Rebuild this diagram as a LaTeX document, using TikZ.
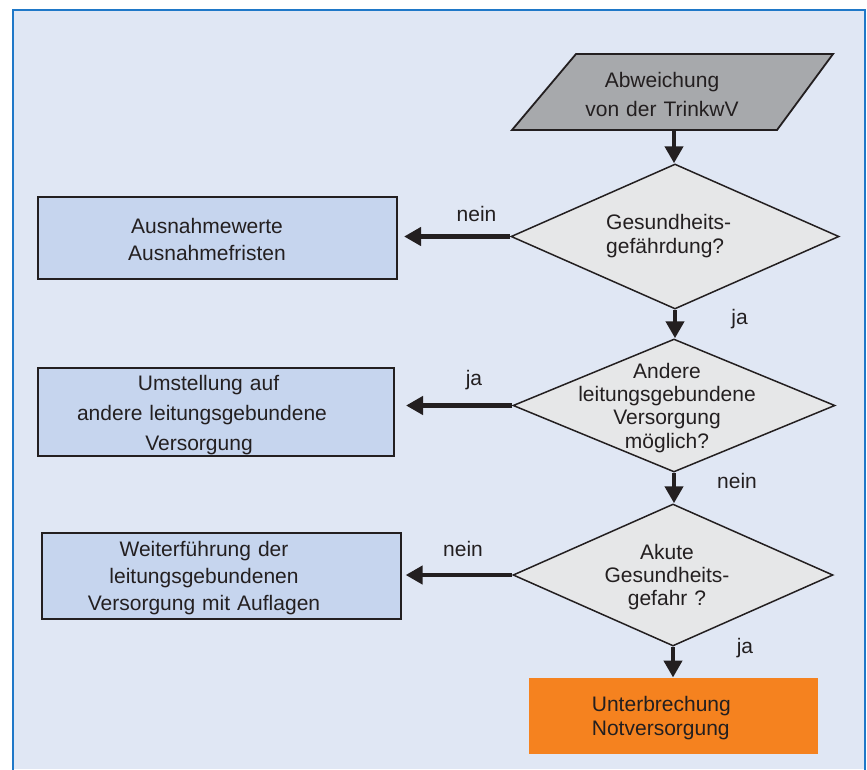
\documentclass[tikz,border=0pt]{standalone}
\usepackage{fontspec}
\setmainfont{Liberation Sans}
\usetikzlibrary{shapes.geometric,arrows.meta,calc}
\definecolor{panel}{HTML}{E0E7F4}
\definecolor{frameblue}{HTML}{1F78C8}
\definecolor{boxblue}{HTML}{C6D5EE}
\definecolor{dgray}{HTML}{E6E7E8}
\definecolor{pgray}{HTML}{A7A9AC}
\definecolor{orng}{HTML}{F5821F}
\definecolor{ink}{HTML}{231F20}
\begin{document}
\begin{tikzpicture}[x=1pt,y=-1pt,
  boxnode/.style={rectangle, draw=ink, line width=2pt, fill=boxblue, inner sep=0pt},
  decision/.style={diamond, draw=ink, line width=1.5pt, fill=dgray, inner sep=0pt},
  txt/.style={text=ink, inner sep=0pt, text width=340pt, align=center, anchor=base},
  ltxt/.style={text=ink, inner sep=0pt, text width=200pt, align=left, anchor=base west},
  lbl/.style={text=ink, font=\fontsize{21}{26}\selectfont, inner sep=0pt, anchor=base},
  flow/.style={draw=ink, line width=4.5pt, -{Triangle[length=17pt,width=18pt]}},
]
\useasboundingbox (0,0) rectangle (867,769);
\fill[white] (0,0) rectangle (867,769);
\fill[panel] (13,10) rectangle (865,769);
\draw[frameblue, line width=2pt] (13,770) -- (13,10) -- (865,10) -- (865,770);

% start parallelogram
\draw[draw=ink, line width=1.8pt, fill=pgray] (576,54) -- (833,54) -- (777,130) -- (512,130) -- cycle;
\coordinate (pb) at (674,130);
\node[txt, font=\fontsize{21}{28.3}\selectfont] (ptext) at (662,87.7) {Abweichung\\von der TrinkwV};

% decisions
\node[decision, minimum width=328pt, minimum height=145pt] (d1) at (675,236.5) {};
\node[decision, minimum width=322pt, minimum height=133pt] (d2) at (674,405.5) {};
\node[decision, minimum width=320pt, minimum height=142pt] (d3) at (673,575) {};

% boxes
\node[boxnode, minimum width=358.7pt, minimum height=82.6pt] (b1) at (217.7,238) {};
\node[boxnode, minimum width=356pt, minimum height=88pt] (b2) at (216,412) {};
\node[boxnode, minimum width=358.7pt, minimum height=86pt] (b3) at (221.3,575.7) {};
\node[rectangle, fill=orng, minimum width=288.4pt, minimum height=76.6pt, inner sep=0pt] (o) at (673.5,716) {};

% texts
\node[txt, font=\fontsize{21}{26.5}\selectfont] (b1t) at (207,233.5) {Ausnahmewerte\\Ausnahmefristen};
\node[txt, font=\fontsize{21}{30}\selectfont] (b2t) at (202,390.7) {\hspace*{13pt}Umstellung auf\\andere leitungsgebundene\\Versorgung\hspace*{6pt}};
\node[txt, font=\fontsize{21}{27}\selectfont] (b3t) at (204,556.7) {Weiterführung der\\leitungsgebundenen\\Versorgung mit Auflagen};
\node[ltxt, font=\fontsize{21}{23.5}\selectfont] (d1t) at (606,229.5) {Gesundheits-\\gefährdung?};
\node[txt, font=\fontsize{21}{23.3}\selectfont] (d2t) at (667,378.3) {Andere\\leitungsgebundene\\Versorgung\\möglich?};
\node[txt, font=\fontsize{21}{23}\selectfont] (d3t) at (667,559) {Akute\\Gesundheits-\\gefahr ?};
\node[ltxt, font=\fontsize{21}{23.3}\selectfont] (ot) at (591.7,711.7) {Unterbrechung\\Notversorgung};

% labels
\node[lbl] (l1) at (476.5,221.7) {nein};
\node[lbl] (l2) at (739.5,324.3) {ja};
\node[lbl] (l3) at (474,385) {ja};
\node[lbl] (l4) at (737,488.5) {nein};
\node[lbl] (l5) at (463,556.5) {nein};
\node[lbl] (l6) at (745,653) {ja};

% connectors
\draw[flow] (pb) -- (pb |- d1.north);
\draw[flow] (d1.south) -- (d1.south |- d2.north);
\draw[flow] (d2.south) -- (d2.south |- d3.north);
\draw[flow] (d3.south) -- (d3.south |- o.north);
\draw[flow] (d1.west) -- ($(b1.east |- d1.west)+(6,0)$);
\draw[flow] (d2.west) -- ($(b2.east |- d2.west)+(11,0)$);
\draw[flow] (d3.west) -- ($(b3.east |- d3.west)+(4,0)$);
\end{tikzpicture}
\end{document}
